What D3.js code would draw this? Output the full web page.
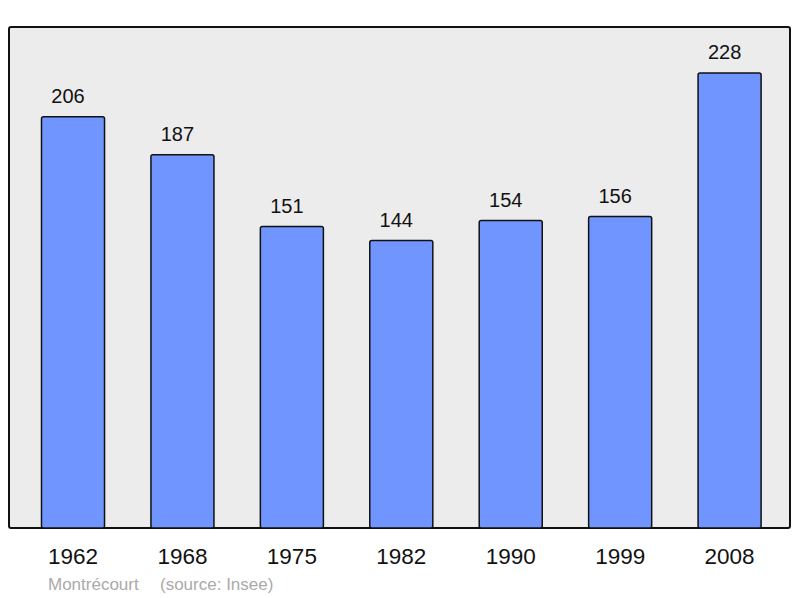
<!DOCTYPE html>
<html>
<head>
<meta charset="utf-8">
<script src="https://cdn.jsdelivr.net/npm/d3@7"></script>
<style>
  body { margin: 0; background: #fff; }
  svg { display: block; font-family: "Liberation Sans", Arial, sans-serif; }
</style>
</head>
<body>
<svg id="chart" width="800" height="598"></svg>
<script>
const years = ["1962", "1968", "1975", "1982", "1990", "1999", "2008"];
const population = [206, 187, 151, 144, 154, 156, 228];
const commune = "Montrécourt";
const source = "(source: Insee)";

const svg = d3.select("#chart");
const panel = { left: 9, top: 27, right: 790, bottom: 528 };

// fond du graphique
svg.append("rect")
    .attr("x", panel.left)
    .attr("y", panel.top)
    .attr("width", panel.right - panel.left)
    .attr("height", panel.bottom - panel.top)
    .attr("rx", 2)
    .attr("fill", "#ececec")
    .attr("stroke", "#111")
    .attr("stroke-width", 2);

const x = d3.scaleBand()
    .domain(years)
    .range([18.3, 784.3])
    .paddingInner(0.424)
    .paddingOuter(0.212);

const y = d3.scaleLinear()
    .domain([0, 250])
    .range([panel.bottom, 29]);

const data = years.map((yr, i) => ({ year: yr, value: population[i] }));

svg.append("g")
    .selectAll("rect")
    .data(data)
    .join("rect")
    .attr("x", d => x(d.year))
    .attr("y", d => y(d.value))
    .attr("width", x.bandwidth())
    .attr("height", d => y(0) - y(d.value))
    .attr("rx", 2)
    .attr("fill", "#7095ff")
    .attr("stroke", "#111")
    .attr("stroke-width", 1.5);

// valeurs au-dessus des barres (légèrement décalées à gauche)
svg.append("g")
    .selectAll("text")
    .data(data)
    .join("text")
    .attr("x", d => x(d.year) + x.bandwidth() / 2 - 5)
    .attr("y", d => y(d.value) - 14)
    .attr("text-anchor", "middle")
    .attr("font-size", 20)
    .attr("fill", "#111")
    .text(d => d.value);

// axe des années
svg.append("g")
    .attr("transform", `translate(0,${panel.bottom})`)
    .call(d3.axisBottom(x).tickSize(0).tickPadding(20))
    .call(g => g.select(".domain").remove())
    .call(g => g.selectAll("text")
        .attr("font-size", 22.5)
        .attr("font-family", "Liberation Sans, Arial, sans-serif")
        .attr("fill", "#111"));

svg.append("text")
    .attr("x", 48)
    .attr("y", 590)
    .attr("font-size", 17)
    .attr("fill", "#aaa")
    .text(commune);

svg.append("text")
    .attr("x", 160)
    .attr("y", 590)
    .attr("font-size", 17)
    .attr("fill", "#aaa")
    .text(source);
</script>
</body>
</html>
